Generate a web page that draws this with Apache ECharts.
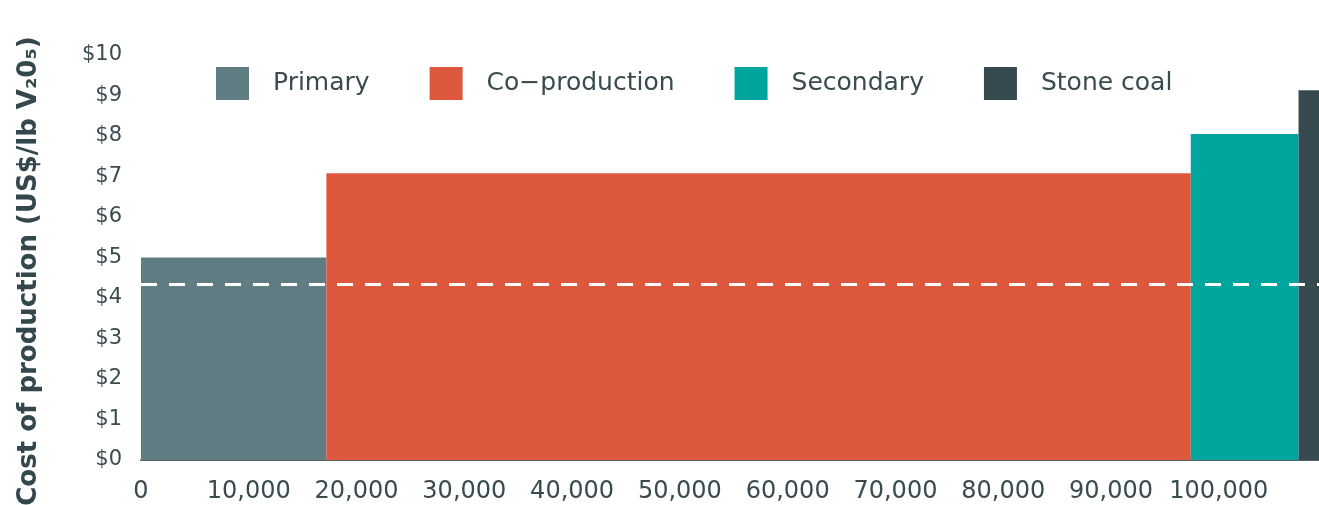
<!DOCTYPE html>
<html><head><meta charset="utf-8">
<script src="https://cdn.jsdelivr.net/npm/echarts@6/dist/echarts.min.js"></script>
<style>html,body{margin:0;padding:0;background:#fff}#c{width:1319px;height:505px}</style>
</head><body><div id="c"></div>
<script>
const categories = ['Primary', 'Co\u2212production', 'Secondary', 'Stone coal'];
const capacityStart = [0, 17200, 97400, 107400];
const capacityEnd = [17200, 97400, 107400, 110000];
const costs = [5.0, 7.08, 8.05, 9.13];
const averageCost = 4.35;
const xTickValues = [0, 10000, 20000, 30000, 40000, 50000, 60000, 70000, 80000, 90000, 100000];
const yTickValues = [0, 1, 2, 3, 4, 5, 6, 7, 8, 9, 10];
const colors = ['#617D84', '#DE583D', '#00A59D', '#364A4F'];
const yTitle = 'Cost of production (US$/lb V\u20820\u2085)';

const textColor = '#3A4B50';
const font = 'DejaVu Sans';

const series = categories.map((name, i) => ({
  name: name,
  type: 'custom',
  clip: true,
  itemStyle: { color: colors[i] },
  data: [[capacityStart[i], capacityEnd[i], costs[i]]],
  renderItem: function (params, api) {
    const p0 = api.coord([api.value(0), api.value(2)]);
    const p1 = api.coord([api.value(1), 0]);
    return {
      type: 'rect',
      shape: { x: p0[0], y: p0[1], width: p1[0] - p0[0], height: p1[1] - p0[1] },
      style: { fill: colors[i] }
    };
  },
  z: 2
}));
series[0].markLine = {
  silent: true,
  symbol: 'none',
  label: { show: false },
  lineStyle: { color: '#ffffff', type: [16, 12], width: 3 },
  data: [{ yAxis: averageCost }],
  z: 5
};

const chart = echarts.init(document.getElementById('c'));
chart.setOption({
  animation: false,
  textStyle: { fontFamily: font },
  grid: { left: 141, right: 0, top: 55, bottom: 45, containLabel: false },
  legend: {
    data: categories,
    left: 216, top: 67, padding: 0,
    icon: 'rect', itemWidth: 33, itemHeight: 33, itemGap: 60,
    textStyle: { fontSize: 25, color: textColor, fontFamily: font, padding: [3, 0, 0, 19] },
    selectedMode: false
  },
  xAxis: {
    type: 'value', min: 0, max: 109300,
    splitLine: { show: false },
    axisTick: { show: false },
    axisLine: { show: true, lineStyle: { color: '#55656A', width: 2 } },
    axisLabel: {
      customValues: xTickValues,
      fontSize: 24, color: textColor, margin: 20, fontFamily: font,
      formatter: v => v.toLocaleString('en-US')
    }
  },
  yAxis: {
    type: 'value', min: 0, max: 10, interval: 1,
    splitLine: { show: false },
    axisTick: { show: false },
    axisLine: { show: false },
    axisLabel: {
      customValues: yTickValues,
      fontSize: 21, color: textColor, margin: 19, fontFamily: font,
      formatter: v => '$' + v
    }
  },
  graphic: [{
    type: 'text',
    x: 29, y: 271,
    rotation: Math.PI / 2,
    style: {
      text: yTitle,
      font: 'bold 26px "DejaVu Sans"',
      fill: '#34474D',
      align: 'center',
      verticalAlign: 'middle'
    }
  }],
  series: series
});
</script></body></html>
